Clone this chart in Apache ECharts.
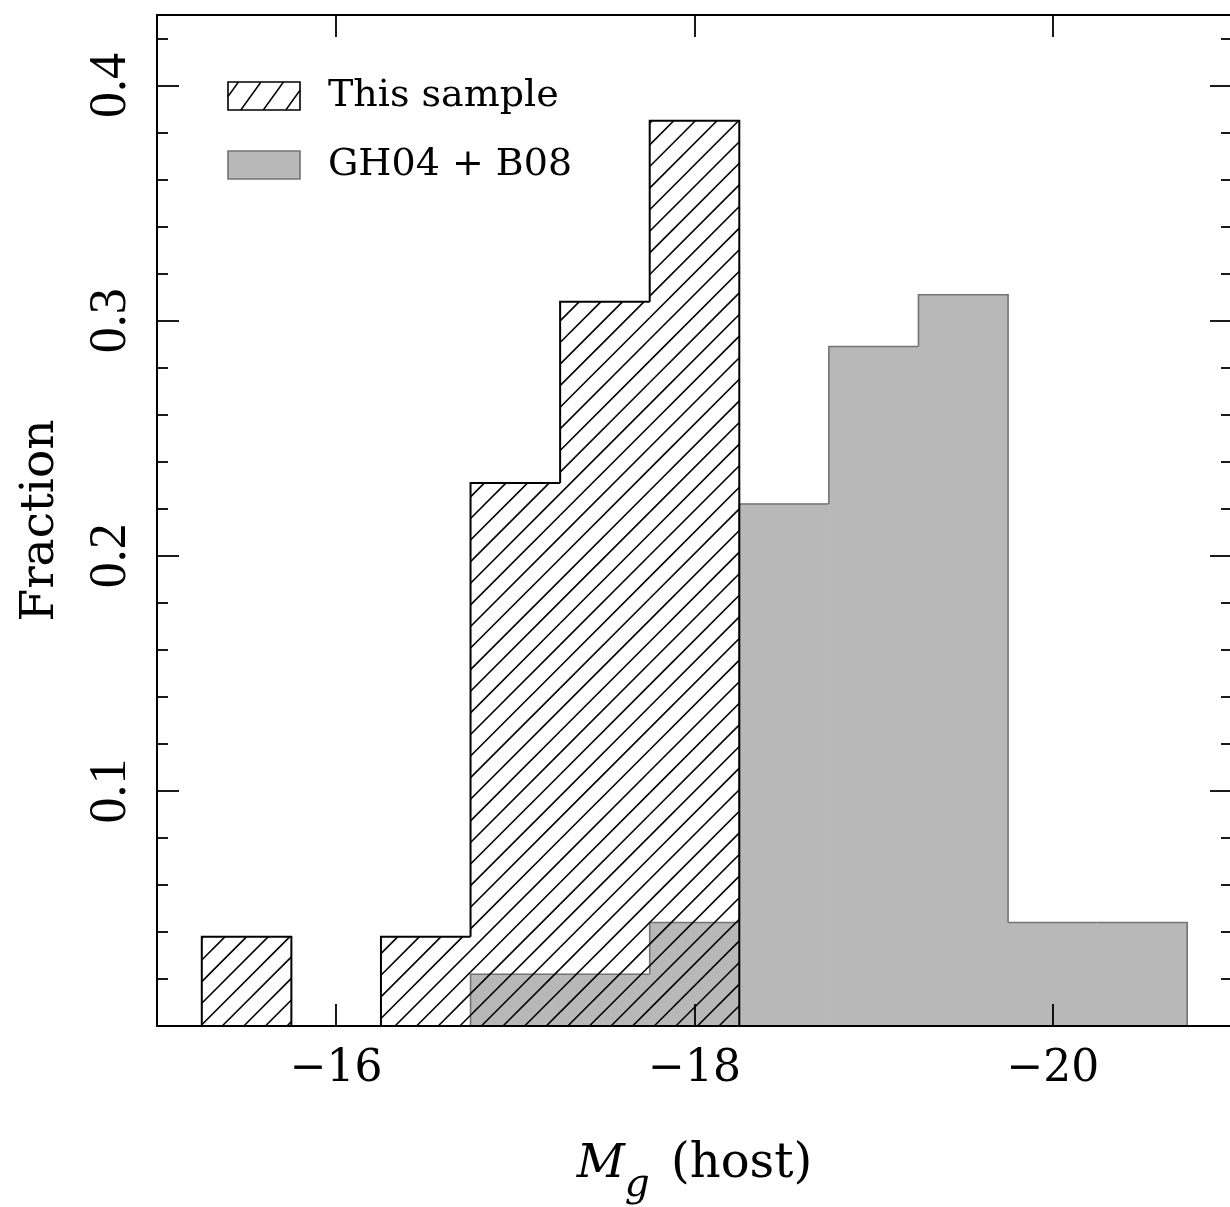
<!DOCTYPE html>
<html><head><meta charset="utf-8">
<script src="https://cdn.jsdelivr.net/npm/echarts@6/dist/echarts.min.js"></script>
<style>html,body{margin:0;padding:0;background:#fff}#c{width:1230px;height:1207px}</style>
</head><body><div id="c"></div>
<script>
// ---- data ----
const binCenters = [-15.5, -16.0, -16.5, -17.0, -17.5, -18.0, -18.5, -19.0, -19.5, -20.0, -20.5];
const binWidth = 0.5;
const thisSample = [0.038, 0, 0.038, 0.231, 0.308, 0.385, 0, 0, 0, 0, 0];
const gh04b08 = [0, 0, 0, 0.022, 0.022, 0.044, 0.222, 0.289, 0.311, 0.044, 0.044];
const xTickValues = [-16, -18, -20];
const yTickValues = [0.1, 0.2, 0.3, 0.4];
const seriesNames = ['This sample', 'GH04 + B08'];

const GREY_FILL = '#b8b8b8', GREY_EDGE = '#747474';
const HATCH_SPACING = 21.6, HATCH_PHASE = 17;

function rows(vals) {
  return binCenters.map((c, i) => [c, vals[i], i > 0 ? vals[i - 1] : 0, i < vals.length - 1 ? vals[i + 1] : 0]);
}

// clipped "/" hatch lines inside a rectangle (screen coords, y0<y1)
function hatchSegments(x0, y0, x1, y1, spacing, phase, slope) {
  const segs = [];
  const cMin = x0 + slope * y0, cMax = x1 + slope * y1;
  const k = Math.ceil((cMin - phase) / spacing);
  for (let c = phase + k * spacing; c <= cMax; c += spacing) {
    const ya = Math.max(y0, (c - x1) / slope);
    const yb = Math.min(y1, (c - x0) / slope);
    if (yb > ya) segs.push([c - slope * ya, ya, c - slope * yb, yb]);
  }
  return segs;
}

function makeRender(kind) {
  return function (params, api) {
    const xc = api.value(0), h = api.value(1), hp = api.value(2), hn = api.value(3);
    if (!(h > 0)) return { type: 'group', children: [] };
    const ePrev = api.coord([xc + binWidth / 2, 0])[0];
    const eNext = api.coord([xc - binWidth / 2, 0])[0];
    const yOf = v => api.coord([xc, v])[1];
    const yh = yOf(h), y0 = yOf(0);
    const L = Math.min(ePrev, eNext), R = Math.max(ePrev, eNext);
    const children = [];
    if (kind === 'fill') {
      children.push({ type: 'rect', shape: { x: L, y: yh, width: R - L, height: y0 - yh },
        style: { fill: GREY_FILL, stroke: GREY_FILL, lineWidth: 0.8 } });
    } else {
      hatchSegments(L, yh, R, y0, HATCH_SPACING, HATCH_PHASE, 1).forEach(s => {
        children.push({ type: 'line', shape: { x1: s[0], y1: s[1], x2: s[2], y2: s[3] },
          style: { stroke: '#000', lineWidth: 1.6 } });
      });
    }
    const hpEff = h > hp ? hp : h, hnEff = h > hn ? hn : h;
    children.push({ type: 'polyline',
      shape: { points: [[ePrev, yOf(hpEff)], [ePrev, yh], [eNext, yh], [eNext, yOf(hnEff)]] },
      style: { fill: 'none', stroke: kind === 'fill' ? GREY_EDGE : '#000',
        lineWidth: kind === 'fill' ? 1.6 : 2, lineJoin: 'miter' } });
    return { type: 'group', children };
  };
}

// legend graphics
const LX = 228, LW = 72, LH = 28, LY1 = 82, LY2 = 151;
const legendHatch = hatchSegments(LX, LY1, LX + LW, LY1 + LH, 22.5, 5, 0.72).map(s => ({
  type: 'line', shape: { x1: s[0], y1: s[1], x2: s[2], y2: s[3] }, style: { stroke: '#000', lineWidth: 1.5 }
}));

const chart = echarts.init(document.getElementById('c'), null, { renderer: 'canvas' });
const axisLineStyle = { color: '#000', width: 2 };
const tickStyle = { color: '#000', width: 1.8 };
chart.setOption({
  animation: false,
  backgroundColor: '#fff',
  grid: { left: 157, top: 15, right: -2, bottom: 181, containLabel: false, outerBoundsMode: 'none' },
  xAxis: [{
    type: 'value', position: 'bottom', min: -21, max: -15, inverse: true, z: 5,
    axisLine: { show: true, onZero: false, lineStyle: axisLineStyle },
    axisTick: { show: true, inside: true, length: 22, customValues: xTickValues, lineStyle: tickStyle },
    axisLabel: { show: true, customValues: xTickValues, margin: 22, color: '#000',
      fontFamily: 'DejaVu Serif', fontSize: 44, formatter: v => '\u2212' + Math.abs(v) },
    splitLine: { show: false },
    name: '{it|M}{sub|g}{n| (host)}', nameLocation: 'middle', nameGap: 99,
    nameTextStyle: { rich: {
      it: { fontFamily: 'DejaVu Serif', fontStyle: 'italic', fontSize: 47, color: '#000', lineHeight: 80, verticalAlign: 'middle' },
      sub: { fontFamily: 'DejaVu Serif', fontStyle: 'italic', fontSize: 39, color: '#000', lineHeight: 40, verticalAlign: 'bottom', padding: [0, 6, 0, 0] },
      n: { fontFamily: 'DejaVu Serif', fontSize: 48, color: '#000', lineHeight: 80, verticalAlign: 'middle' }
    } }
  }, {
    type: 'value', position: 'top', min: -21, max: -15, inverse: true, z: 5,
    axisLine: { show: true, onZero: false, lineStyle: axisLineStyle },
    axisTick: { show: true, inside: true, length: 22, customValues: xTickValues, lineStyle: tickStyle },
    axisLabel: { show: true, customValues: xTickValues, formatter: () => '' },
    splitLine: { show: false }
  }],
  yAxis: [{
    type: 'value', position: 'left', min: 0, max: 0.43, interval: 0.1, z: 5,
    axisLine: { show: true, onZero: false, lineStyle: axisLineStyle },
    axisTick: { show: true, inside: true, length: 22, lineStyle: tickStyle },
    minorTick: { show: true, splitNumber: 5, length: 11, lineStyle: tickStyle },
    axisLabel: { show: true, customValues: yTickValues, rotate: 90, margin: 20, color: '#000',
      fontFamily: 'Liberation Serif', fontSize: 52, formatter: v => v.toFixed(1) },
    splitLine: { show: false }, minorSplitLine: { show: false },
    name: 'Fraction', nameLocation: 'middle', nameGap: 93,
    nameTextStyle: { fontFamily: 'DejaVu Serif', fontSize: 47, color: '#000' }
  }, {
    type: 'value', position: 'right', min: 0, max: 0.43, interval: 0.1, z: 5,
    axisLine: { show: true, onZero: false, lineStyle: axisLineStyle },
    axisTick: { show: true, inside: true, length: 22, lineStyle: tickStyle },
    minorTick: { show: true, splitNumber: 5, length: 11, lineStyle: tickStyle },
    axisLabel: { show: false }, splitLine: { show: false }, minorSplitLine: { show: false }
  }],
  series: [{
    name: seriesNames[1], type: 'custom', xAxisIndex: 0, yAxisIndex: 0,
    renderItem: makeRender('fill'), data: rows(gh04b08), clip: false
  }, {
    name: seriesNames[0], type: 'custom', xAxisIndex: 0, yAxisIndex: 0,
    renderItem: makeRender('hatch'), data: rows(thisSample), clip: false
  }],
  graphic: [
    { type: 'group', z: 100, children: legendHatch.concat([
      { type: 'rect', shape: { x: LX, y: LY1, width: LW, height: LH }, style: { fill: 'none', stroke: '#000', lineWidth: 1.6 } },
      { type: 'rect', shape: { x: LX, y: LY2, width: LW, height: LH }, style: { fill: GREY_FILL, stroke: GREY_EDGE, lineWidth: 1.6 } },
      { type: 'text', style: { text: seriesNames[0], x: 328, y: LY1 + LH / 2, fill: '#000',
        fontFamily: 'DejaVu Serif', fontSize: 38, verticalAlign: 'middle', textVerticalAlign: 'middle' } },
      { type: 'text', style: { text: seriesNames[1], x: 328, y: LY2 + LH / 2, fill: '#000',
        fontFamily: 'DejaVu Serif', fontSize: 38, verticalAlign: 'middle', textVerticalAlign: 'middle' } }
    ]) }
  ]
});
</script></body></html>
